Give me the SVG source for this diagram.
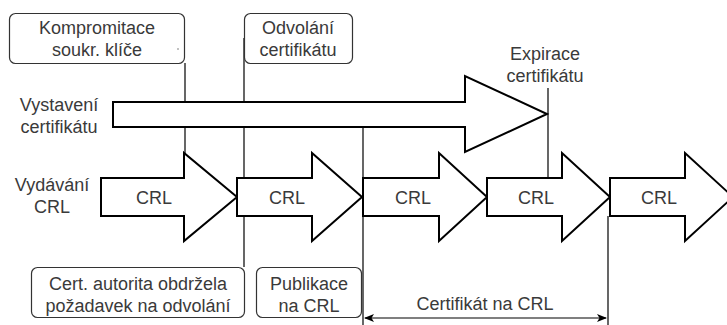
<svg xmlns="http://www.w3.org/2000/svg" width="727" height="325" viewBox="0 0 727 325">
  <defs>
    <marker id="ah" viewBox="0 0 10 10" refX="9" refY="5" markerWidth="10" markerHeight="10" markerUnits="userSpaceOnUse" orient="auto-start-reverse">
      <path d="M0,1 L10,5 L0,9 L2.5,5 Z" fill="#000"/>
    </marker>
  </defs>
  <style>
    text { font-family: "Liberation Sans", Arial, sans-serif; font-size: 18px; fill: #3a3a3a; }
    .c { text-anchor: middle; }
    .box { fill: #fff; stroke: #333; stroke-width: 1.2; }
    .arrow { fill: #fff; stroke: #000; stroke-width: 2; stroke-linejoin: miter; }
    .mark { stroke: #000; stroke-width: 1.2; fill: none; }
  </style>
  <rect width="727" height="325" fill="#fff"/>

  <!-- time markers -->
  <g id="connectors">
    <line class="mark" x1="185" y1="63" x2="185" y2="154"/>
    <line class="mark" x1="244" y1="38" x2="244" y2="267"/>
    <line class="mark" x1="363" y1="127" x2="363" y2="325"/>
    <line class="mark" x1="548" y1="88" x2="548" y2="178"/>
    <line class="mark" x1="608" y1="216" x2="608" y2="325"/>
    <line class="mark" x1="365" y1="318" x2="606" y2="318" marker-start="url(#ah)" marker-end="url(#ah)"/>
  </g>

  <!-- certificate lifetime -->
  <g id="cert-issue">
    <path class="arrow" d="M113,102 H465 V76 L547,114 L465,152 V127 H113 Z"/>
    <text class="c" x="59" y="111">Vystavení</text>
    <text class="c" x="59" y="133">certifikátu</text>
  </g>

  <g id="cert-expiry">
    <text class="c" x="545" y="60">Expirace</text>
    <text class="c" x="545" y="82">certifikátu</text>
  </g>

  <!-- CRL issuing periods -->
  <g id="crl-label">
    <text class="c" x="52" y="191">Vydávání</text>
    <text class="c" x="52" y="213">CRL</text>
  </g>
  <g id="crl1">
    <path class="arrow" d="M101,178 H184 V153 L237,197 L184,241 V216 H101 Z"/>
    <text class="c" x="154" y="204">CRL</text>
  </g>
  <g id="crl2">
    <path class="arrow" d="M237,178 H312 V153 L362,197 L312,241 V216 H237 Z"/>
    <text class="c" x="287" y="204">CRL</text>
  </g>
  <g id="crl3">
    <path class="arrow" d="M363,178 H439 V153 L487,197 L439,241 V216 H363 Z"/>
    <text class="c" x="413" y="204">CRL</text>
  </g>
  <g id="crl4">
    <path class="arrow" d="M487,178 H562 V153 L610,197 L562,241 V216 H487 Z"/>
    <text class="c" x="536" y="204">CRL</text>
  </g>
  <g id="crl5">
    <path class="arrow" d="M610,178 H685 V153 L733,197 L685,241 V216 H610 Z"/>
    <text class="c" x="659" y="204">CRL</text>
  </g>

  <!-- event boxes -->
  <g id="compromise">
    <rect class="box" x="9.5" y="13.5" width="175" height="50" rx="6"/>
    <text class="c" x="97" y="34">Kompromitace</text>
    <text class="c" x="97" y="56">soukr. klíče</text>
    <circle cx="178" cy="49" r="0.7" fill="#555"/>
  </g>
  <g id="revocation">
    <rect class="box" x="244.5" y="13.5" width="108" height="50" rx="6"/>
    <text class="c" x="298" y="34">Odvolání</text>
    <text class="c" x="298" y="56">certifikátu</text>
  </g>
  <g id="ca-request">
    <rect class="box" x="31.5" y="267.5" width="213" height="50" rx="6"/>
    <text class="c" x="138" y="290">Cert. autorita obdržela</text>
    <text class="c" x="138" y="312">požadavek na odvolání</text>
  </g>
  <g id="publication">
    <rect class="box" x="256.5" y="267.5" width="105" height="50" rx="6"/>
    <text class="c" x="309" y="290">Publikace</text>
    <text class="c" x="309" y="312">na CRL</text>
  </g>
  <g id="cert-on-crl">
    <text class="c" x="485" y="310">Certifikát na CRL</text>
  </g>
</svg>
